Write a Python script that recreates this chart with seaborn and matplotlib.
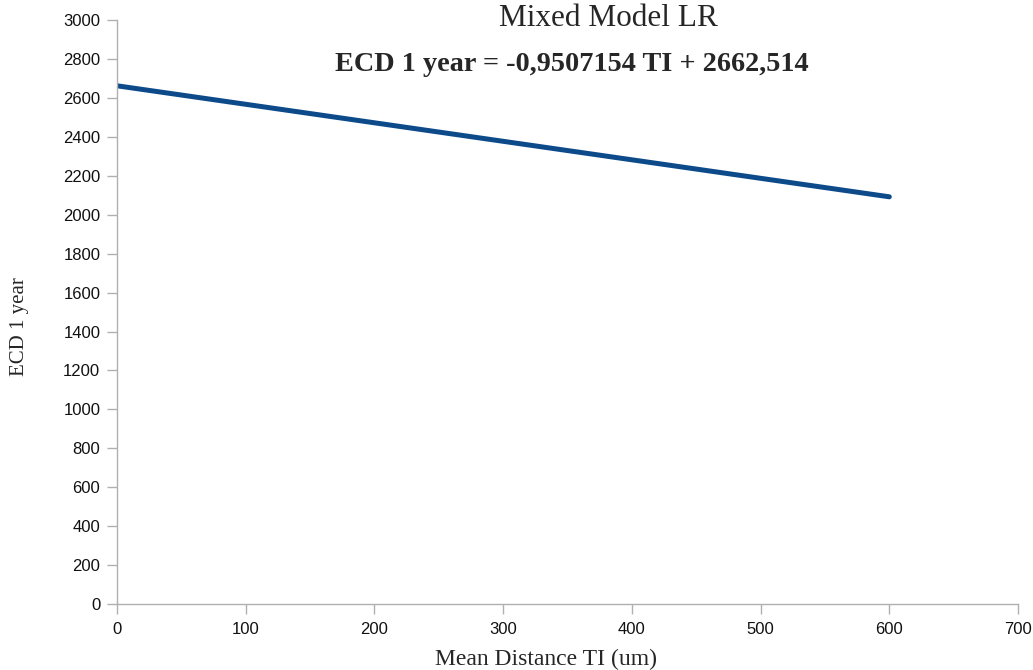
import matplotlib
matplotlib.use("Agg")
import matplotlib.pyplot as plt
import pandas as pd
import seaborn as sns

# Data
mean_distance = [0, 600]
ecd_1_year = [2662.5, 2092.1]
x_ticks = [0, 100, 200, 300, 400, 500, 600, 700]
y_ticks = list(range(0, 3001, 200))

title = "Mixed Model LR"
equation = "ECD 1 year = -0,9507154 TI + 2662,514"

df = pd.DataFrame({"x": mean_distance, "y": ecd_1_year})

sns.set_style("white")
plt.rcParams["font.family"] = ["Liberation Sans", "DejaVu Sans"]

fig = plt.figure(figsize=(10.33, 6.70), dpi=100)
ax = fig.add_axes([0.1133, 0.0985, 0.8722, 0.8715])

sns.lineplot(data=df, x="x", y="y", ax=ax, color="#0d4a8a", linewidth=3.6)

ax.set_xlim(0, 700)
ax.set_ylim(0, 3000)
ax.set_xticks(x_ticks)
ax.set_yticks(y_ticks)

for side in ["top", "right"]:
    ax.spines[side].set_visible(False)
for side in ["left", "bottom"]:
    ax.spines[side].set_color("#b0b0b0")
    ax.spines[side].set_linewidth(1.0)
ax.tick_params(axis="both", direction="out", length=7, width=1.0,
               bottom=True, left=True,
               color="#b0b0b0", labelsize=12, labelcolor="#111111", pad=5)
ax.tick_params(axis="x", pad=6)

ax.set_xlabel("")
ax.set_ylabel("")
fig.text(0.529, 0.016, "Mean Distance TI (um)", family="Liberation Serif",
         fontsize=17, ha="center", va="center")
fig.text(0.019, 0.513, "ECD 1 year", family="Liberation Serif", fontsize=15,
         rotation=90, ha="center", va="center")

fig.text(0.589, 0.972, title, family="Liberation Serif", fontsize=22.5,
         ha="center", va="center")
fig.text(0.554, 0.904, equation, family="Liberation Serif", fontsize=20.3,
         fontweight="bold", ha="center", va="center")

fig.savefig("out.png", dpi=100)
